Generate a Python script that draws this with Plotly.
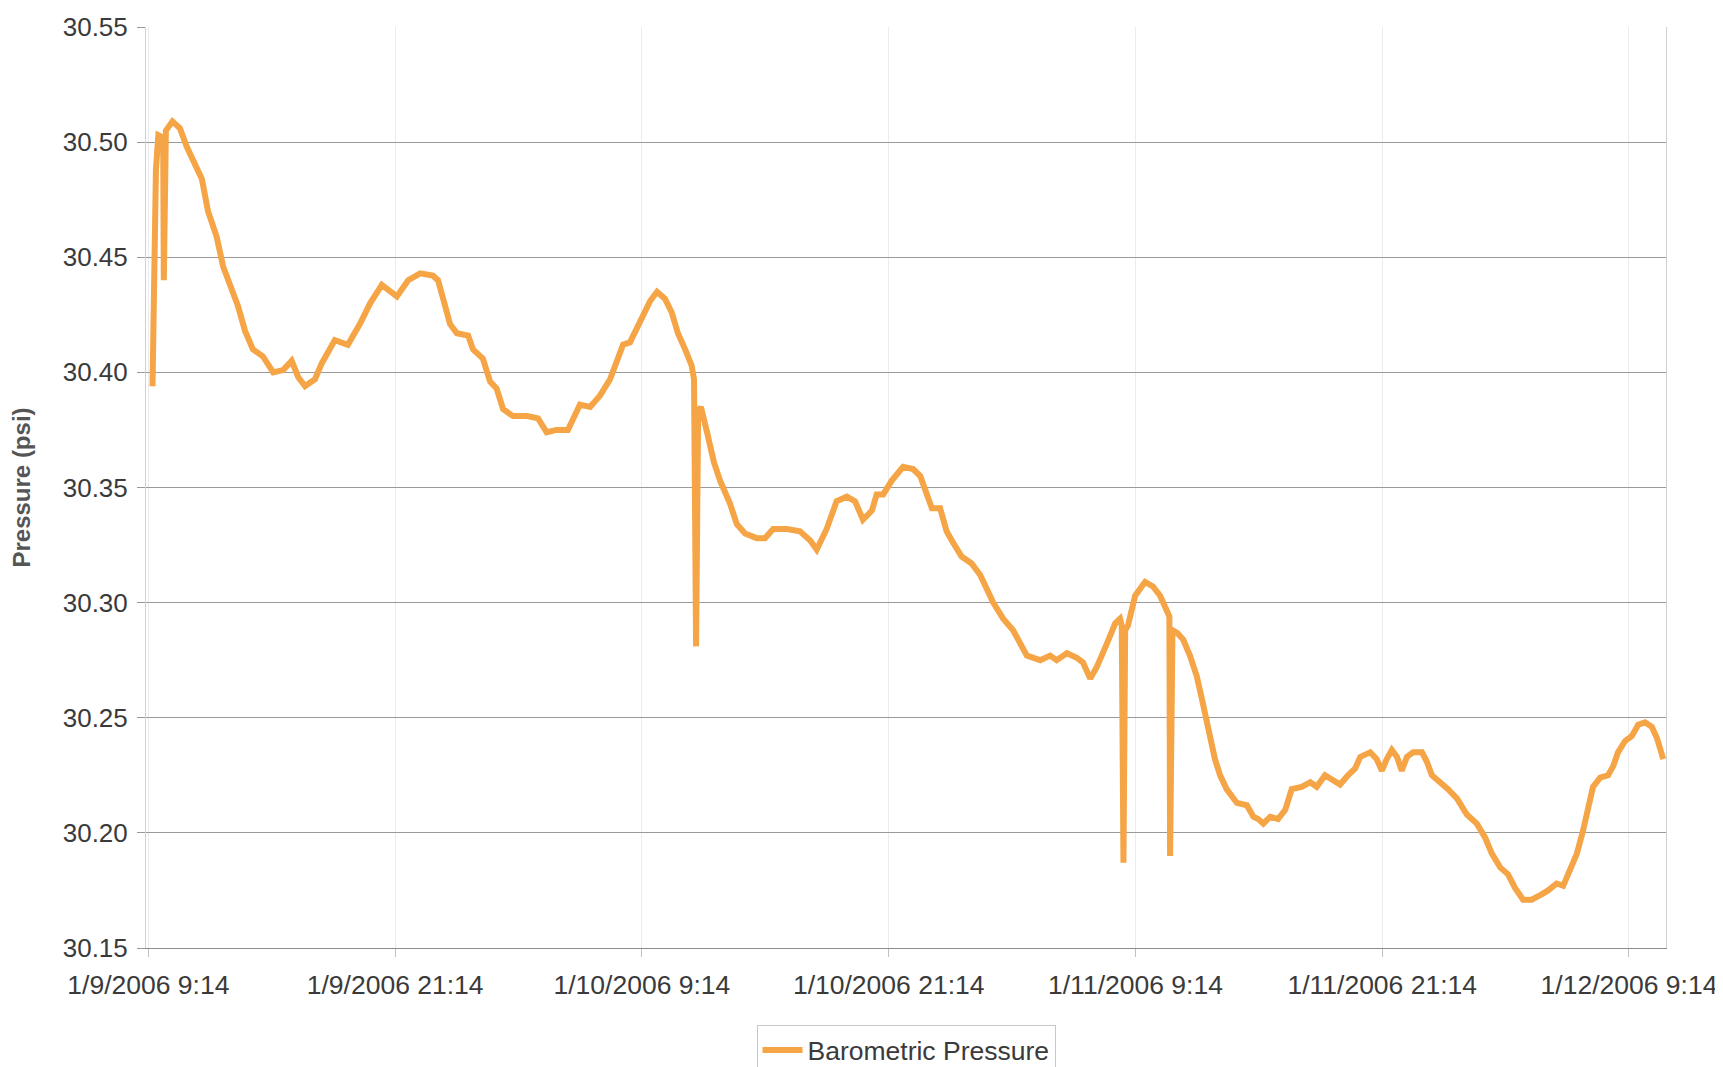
import pandas as pd
import plotly.graph_objects as go

start_time = "2006-01-09 09:14"
minutes = [
    12, 16, 22, 29, 43, 45, 49, 51, 70, 92,
    112, 130, 156, 174, 199, 218, 243, 261, 282, 305,
    334, 364, 393, 418, 437, 457, 486, 506, 544, 582,
    617, 647, 681, 725, 758, 793, 830, 845, 860, 880,
    900, 933, 947, 976, 997, 1016, 1035, 1064, 1105, 1137,
    1162, 1191, 1224, 1259, 1289, 1318, 1347, 1367, 1385, 1405,
    1425, 1443, 1464, 1484, 1507, 1527, 1545, 1566, 1585, 1592,
    1598, 1604, 1612, 1630, 1650, 1668, 1697, 1717, 1741, 1775,
    1799, 1823, 1863, 1901, 1931, 1950, 1979, 2008, 2038, 2062,
    2085, 2111, 2125, 2144, 2169, 2202, 2231, 2252, 2271, 2286,
    2310, 2329, 2348, 2373, 2402, 2427, 2465, 2494, 2523, 2543,
    2563, 2602, 2631, 2650, 2680, 2709, 2727, 2748, 2767, 2796,
    2821, 2835, 2840, 2845, 2850, 2858, 2879, 2908, 2931, 2952,
    2975, 2979, 2981, 2988, 3001, 3019, 3039, 3059, 3077, 3092,
    3112, 3127, 3146, 3176, 3205, 3224, 3238, 3253, 3273, 3296,
    3317, 3336, 3365, 3390, 3409, 3433, 3463, 3477, 3500, 3521,
    3536, 3565, 3584, 3599, 3613, 3628, 3643, 3657, 3672, 3690,
    3716, 3730, 3745, 3769, 3792, 3818, 3847, 3876, 3900, 3920,
    3944, 3967, 3988, 4011, 4036, 4061, 4084, 4109, 4128, 4148,
    4168, 4186, 4201, 4215, 4236, 4259, 4274, 4288, 4309, 4328,
    4347, 4367, 4387, 4402, 4420,
]
pressure = [
    30.394, 30.460, 30.488, 30.503, 30.502, 30.440, 30.500, 30.505, 30.509, 30.506,
    30.498, 30.492, 30.484, 30.470, 30.459, 30.446, 30.437, 30.429, 30.418, 30.410,
    30.407, 30.400, 30.401, 30.405, 30.398, 30.394, 30.397, 30.404, 30.414, 30.412,
    30.421, 30.430, 30.438, 30.433, 30.440, 30.443, 30.442, 30.440, 30.432, 30.421,
    30.417, 30.416, 30.410, 30.406, 30.396, 30.393, 30.384, 30.381, 30.381, 30.380,
    30.374, 30.375, 30.375, 30.386, 30.385, 30.390, 30.397, 30.405, 30.412, 30.413,
    30.419, 30.424, 30.431, 30.435, 30.432, 30.426, 30.417, 30.410, 30.403, 30.397,
    30.281, 30.383, 30.385, 30.374, 30.361, 30.353, 30.343, 30.334, 30.330, 30.328,
    30.328, 30.332, 30.332, 30.331, 30.327, 30.323, 30.332, 30.344, 30.346, 30.344,
    30.336, 30.340, 30.347, 30.347, 30.353, 30.359, 30.358, 30.355, 30.347, 30.341,
    30.341, 30.331, 30.326, 30.320, 30.317, 30.312, 30.300, 30.293, 30.288, 30.283,
    30.277, 30.275, 30.277, 30.275, 30.278, 30.276, 30.274, 30.267, 30.272, 30.282,
    30.291, 30.293, 30.290, 30.187, 30.288, 30.290, 30.303, 30.309, 30.307, 30.303,
    30.296, 30.294, 30.190, 30.288, 30.287, 30.284, 30.277, 30.268, 30.256, 30.246,
    30.232, 30.225, 30.219, 30.213, 30.212, 30.207, 30.206, 30.204, 30.207, 30.206,
    30.210, 30.219, 30.220, 30.222, 30.220, 30.225, 30.222, 30.221, 30.225, 30.228,
    30.233, 30.235, 30.232, 30.227, 30.232, 30.236, 30.233, 30.227, 30.233, 30.235,
    30.235, 30.231, 30.225, 30.222, 30.219, 30.215, 30.208, 30.204, 30.198, 30.191,
    30.185, 30.182, 30.176, 30.171, 30.171, 30.173, 30.175, 30.178, 30.177, 30.184,
    30.191, 30.201, 30.211, 30.220, 30.224, 30.225, 30.229, 30.235, 30.240, 30.242,
    30.247, 30.248, 30.246, 30.241, 30.232,
]

tick_times = ["2006-01-09 09:14", "2006-01-09 21:14", "2006-01-10 09:14",
              "2006-01-10 21:14", "2006-01-11 09:14", "2006-01-11 21:14",
              "2006-01-12 09:14"]
tick_labels = ["1/9/2006 9:14", "1/9/2006 21:14", "1/10/2006 9:14",
               "1/10/2006 21:14", "1/11/2006 9:14", "1/11/2006 21:14",
               "1/12/2006 9:14"]
y_ticks = [30.15, 30.20, 30.25, 30.30, 30.35, 30.40, 30.45, 30.50, 30.55]
y_labels = ["30.15", "30.20", "30.25", "30.30", "30.35", "30.40", "30.45", "30.50", "30.55"]

times = pd.Timestamp(start_time) + pd.to_timedelta(minutes, unit="m")

FONT = "Liberation Sans, Arial, Helvetica, sans-serif"
ORANGE = "#F5A446"

fig = go.Figure()
fig.add_trace(go.Scatter(
    x=times, y=pressure, mode="lines", name="Barometric Pressure",
    line=dict(color=ORANGE, width=6),
))

x_start = pd.Timestamp(start_time) - pd.Timedelta(minutes=7)
x_end = pd.Timestamp(start_time) + pd.Timedelta(minutes=4428)

fig.update_layout(
    width=1723, height=1067,
    margin=dict(l=138, r=65, t=19, b=127, autoexpand=False),
    paper_bgcolor="white", plot_bgcolor="white",
    font=dict(family=FONT, size=26, color="#3a3a3a"),
    showlegend=True,
    legend=dict(
        orientation="h", x=0.5, xanchor="center", y=-0.084, yanchor="top",
        bordercolor="#c8c8c8", borderwidth=1, bgcolor="white",
        font=dict(family=FONT, size=26.5, color="#3a3a3a"),
        itemwidth=40, tracegroupgap=0,
    ),
    xaxis=dict(
        type="date", range=[x_start, x_end], automargin=False,
        tickvals=tick_times, ticktext=tick_labels,
        showgrid=True, gridcolor="#ececec", gridwidth=1,
        showline=True, linecolor="#8c8c8c", linewidth=1,
        ticks="outside", ticklen=8, tickcolor="#c0c0c0",
        ticklabelstandoff=5,
        tickfont=dict(family=FONT, size=26.5, color="#3a3a3a"),
        zeroline=False,
    ),
    yaxis=dict(
        range=[30.15, 30.55], automargin=False,
        tickvals=y_ticks, ticktext=y_labels,
        showgrid=True, gridcolor="#9a9a9a", gridwidth=1,
        showline=True, linecolor="#d0d0d0", linewidth=1, mirror=True,
        ticks="outside", ticklen=8, tickcolor="#9a9a9a",
        ticklabelstandoff=4,
        tickfont=dict(family=FONT, size=26, color="#3a3a3a"),
        title=dict(text="<b>Pressure (psi)</b>", standoff=26,
                   font=dict(family=FONT, size=24, color="#555555")),
        zeroline=False,
    ),
)

fig.write_html("out.html")
